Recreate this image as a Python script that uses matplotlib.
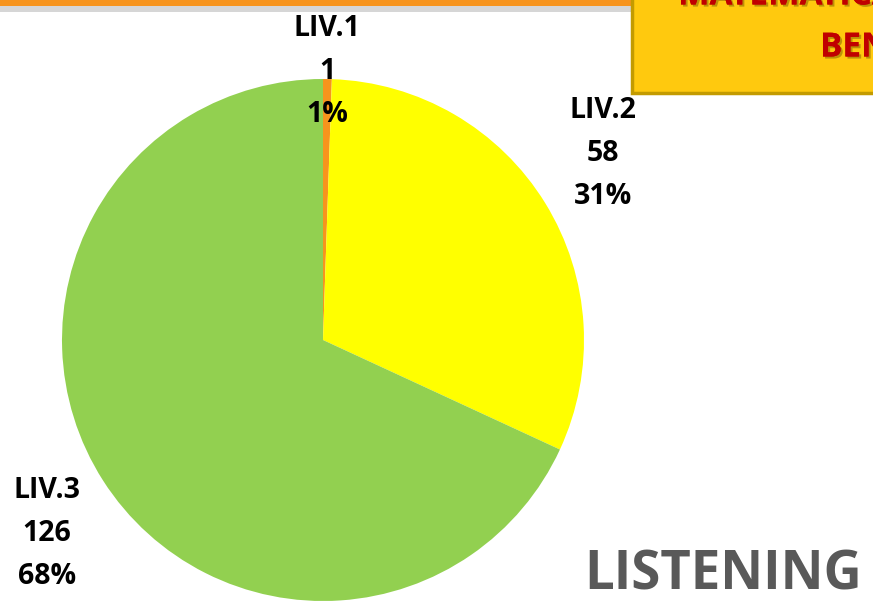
import matplotlib
matplotlib.use('Agg')
import matplotlib.pyplot as plt
from matplotlib.patches import Rectangle
import matplotlib.patheffects as pe

labels = ["LIV.1", "LIV.2", "LIV.3"]
values = [1, 58, 126]
colors = ["#F7941D", "#FFFF00", "#92D050"]
title_lines = ["MATEMATICA", "BENCHMARK"]
subject = "LISTENING"

W, H = 873, 603
fig = plt.figure(figsize=(W/100, H/100), dpi=100)
fig.patch.set_facecolor("white")

# pie: center (323, 340) px, radius 261 px
cx, cy, r = 323, 340, 261
ax = fig.add_axes([(cx-r)/W, (H-cy-r)/H, 2*r/W, 2*r/H])
ax.pie(values, colors=colors, startangle=90, counterclock=False, radius=1,
       wedgeprops=dict(linewidth=0))
ax.set_xlim(-1, 1)
ax.set_ylim(-1, 1)
ax.set_aspect('equal')
ax.axis('off')

total = sum(values)
font = dict(family=["Open Sans", "DejaVu Sans"], weight="bold", fontsize=20.5, color="black")
label_pos = [(327, 28), (603, 110), (47, 490)]
for lab, v, (x, y) in zip(labels, values, label_pos):
    txt = [lab, str(v), f"{100*v/total:.0f}%"]
    for i, t in enumerate(txt):
        fig.text(x/W, 1-(y+i*43.5)/H, t, ha="center", va="center", **font)

# orange strip at the top with shadow
fig.patches.append(Rectangle((0, 1-12/H), 640/W, 7/H, transform=fig.transFigure,
                             facecolor="#BBBBBB", edgecolor="none", alpha=0.6))
fig.patches.append(Rectangle((0, 1-6/H), 640/W, 6/H, transform=fig.transFigure,
                             facecolor="#F7941D", edgecolor="none"))

# yellow title box (cut by right edge)
fig.patches.append(Rectangle((632/W, 1-93/H), 260/W, 120/H, transform=fig.transFigure,
                             facecolor="#FFC90E", edgecolor="#C39B00", linewidth=2.5))
shadow = [pe.withSimplePatchShadow(offset=(1.5, -1.5), shadow_rgbFace="#7a5a00", alpha=0.5), pe.Normal()]
tfont = dict(family=["Open Sans", "DejaVu Sans"], weight="bold", fontsize=24, color="#C00000")
fig.text(678/W, 1-(-4)/H, title_lines[0], ha="left", va="center", path_effects=shadow, **tfont)
fig.text(820/W, 1-48/H, title_lines[1], ha="left", va="center", path_effects=shadow, **tfont)

fig.text(862/W, 1-576/H, subject, ha="right", va="center", family=["Open Sans", "DejaVu Sans"],
         weight="bold", fontsize=38, color="#595959")

fig.savefig("out.png", dpi=100)
